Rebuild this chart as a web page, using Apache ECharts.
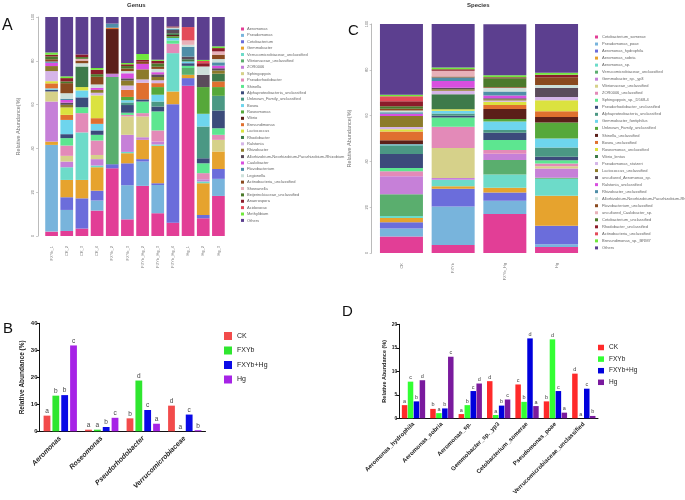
<!DOCTYPE html>
<html><head><meta charset="utf-8">
<script src="https://cdn.jsdelivr.net/npm/echarts/dist/echarts.min.js"></script>
<style>html,body{margin:0;padding:0;background:#fff}#c{width:685px;height:500px}</style>
</head><body><div id="c"></div>
<script>
// ---------- Panel A: Genus ----------
const genusSamples = ['FXYb_1','CK_2','CK_3','CK_4','FXYb_2','FXYb_3','FXYb_Hg_2','FXYb_Hg_3','FXYb_Hg_4','Hg_1','Hg_2','Hg_3'];
const genusNames = ['Aeromonas','Pseudomonas','Cetobacterium','Gemmobacter','Verrucomicrobiaceae_unclassified','Vibrionaceae_unclassified','ZOR0006','Sphingopyxis','Pseudorhodobacter','Shinella','Alphaproteobacteria_unclassified','Unknown_Family_unclassified','Bosea','Roseomonas','Vibrio','Brevundimonas','Lactococcus','Rhodobacter','Ralstonia','Rhizobacter','Allorhizobium-Neorhizobium-Pararhizobium-Rhizobium','Caulobacter','Flavobacterium','Legionella','Actinobacteria_unclassified','Shewanella','Beijerinckiaceae_unclassified','Anaerospora','Acidovorax','Methylibium','Others'];
const gAeromonas = [2, 2.3, 3.4, 11.6, 30.9, 7.6, 22.9, 10.4, 6.1, 68.6, 8.1, 18.3];
const gPseudomonas = [39.6, 9.6, 0, 4.6, 0, 15.6, 11.1, 12.9, 0, 0, 0, 7.8];
const gCetobacterium = [0, 5.8, 13.8, 4.5, 1.9, 10, 1.1, 0.8, 54.1, 3.5, 1.5, 4.5];
const gGemmobacter = [1.5, 7.9, 8.4, 10.7, 0, 4.6, 8.8, 17.1, 5.8, 1.5, 14.5, 8];
const gVerruco = [0, 5.8, 21.7, 0.8, 0, 0.6, 0, 0.6, 17.5, 0, 0.8, 0];
const gVibrionaceae = [0, 0, 0, 0, 39.8, 0, 0, 0, 0, 3.1, 0, 0];
const gZOR0006 = [18.3, 2.6, 0, 2.9, 1.5, 7.8, 1.2, 1.3, 0, 0, 1.0, 0];
const gSphingopyxis = [4.6, 2.6, 0, 1.9, 0, 8.4, 9.5, 0, 0, 0, 0, 5.3];
const gPseudorhodobacter = [0, 4.7, 8.8, 6.6, 0, 0.7, 1.5, 5.1, 4.3, 0, 2.8, 2.3];
const gShinella = [0, 3.4, 2.7, 2.6, 0, 1.0, 5.3, 8.7, 1.5, 1.0, 4.5, 3.0];
const gAlpha = [0.8, 1.8, 4.5, 2.0, 0, 3.5, 1.0, 2.2, 0, 1.2, 2.3, 8.1];
const gUnknownFamily = [0, 0, 0, 0, 0, 1.2, 0, 2.3, 0, 0, 14.5, 6.7];
const gBosea = [0.6, 6.5, 3.2, 3.0, 0, 1.0, 0, 3.1, 1.1, 0.8, 5.8, 0];
const gRoseomonas = [0, 0, 0, 0, 0, 1.5, 0, 3.5, 0.8, 0, 12.2, 4.0];
const gVibrio = [0, 0, 0, 0, 20.4, 0, 0, 0, 0.6, 0, 0, 0];
const gBrevundimonas = [2.3, 2.3, 0, 2.6, 0.6, 3.2, 7.6, 1.8, 0, 0, 0, 2.6];
const gLactococcus = [1.0, 3.4, 1.5, 10.4, 0, 0, 0, 0, 0, 0, 0, 0];
const gRhodobacter = [0, 0, 9.4, 0, 0, 0, 0, 0, 0.8, 1.0, 0, 3.5];
const gRalstonia = [4.6, 0, 0, 1.2, 0, 2.0, 1.5, 1.3, 0, 0, 0, 0];
const gRhizobacter = [2.3, 1.2, 0, 1.3, 0, 2.3, 4.6, 1.5, 0, 0, 0, 1.5];
const gAllorhizobium = [0, 1.0, 0, 0, 0, 1.0, 0, 1.2, 1.5, 1.2, 5.6, 1.0];
const gCaulobacter = [1.5, 1.2, 0, 1.0, 0, 2.3, 2.5, 1.0, 0, 0, 0, 1.2];
const gFlavobacterium = [0.6, 0.6, 0, 0, 1.9, 0, 0, 0, 0.6, 4.5, 0, 1.5];
const gLegionella = [0, 2.5, 1.5, 1.5, 0, 1.0, 0, 1.5, 0.5, 0.9, 3.8, 1.5];
const gActinobacteria = [1.0, 4.6, 1.2, 3.5, 0, 1.2, 1.0, 1.0, 0, 0, 0, 2.0];
const gShewanella = [0, 0, 0.8, 0, 0, 0, 0, 0, 0, 2.0, 0, 1.5];
const gBeijerinckiaceae = [1.3, 0.8, 0.8, 1.2, 0, 1.1, 0, 1.5, 0, 0, 0, 0];
const gAnaerospora = [0.8, 1.5, 1.2, 2.0, 0, 0.8, 0.8, 1.2, 0.5, 0, 1.5, 1.5];
const gAcidovorax = [0, 0, 0, 0, 0, 0, 0, 0, 0, 6.1, 1.0, 0];
const gMethylibium = [1.0, 0.8, 0, 0.8, 0, 0.6, 2.7, 0.5, 0, 0, 0.5, 0.8];
const gOthers = [16.2, 27.1, 17.1, 23.3, 3.0, 21, 16.9, 19.5, 4.3, 4.6, 19.6, 13.4];
const genusData = [gAeromonas,gPseudomonas,gCetobacterium,gGemmobacter,gVerruco,gVibrionaceae,gZOR0006,gSphingopyxis,gPseudorhodobacter,gShinella,gAlpha,gUnknownFamily,gBosea,gRoseomonas,gVibrio,gBrevundimonas,gLactococcus,gRhodobacter,gRalstonia,gRhizobacter,gAllorhizobium,gCaulobacter,gFlavobacterium,gLegionella,gActinobacteria,gShewanella,gBeijerinckiaceae,gAnaerospora,gAcidovorax,gMethylibium,gOthers];

// ---------- Panel C: Species ----------
const speciesSamples = ['CK','FXYb','FXYb_Hg','Hg'];
const speciesNames = ['Cetobacterium_somerae','Pseudomonas_poae','Aeromonas_hydrophila','Aeromonas_sobria','Aeromonas_sp.','Verrucomicrobiaceae_unclassified','Gemmobacter_sp._yp3','Vibrionaceae_unclassified','ZOR0006_unclassified','Sphingopyxis_sp._D568-4','Pseudorhodobacter_unclassified','Alphaproteobacteria_unclassified','Gemmobacter_fontiphilus','Unknown_Family_unclassified','Shinella_unclassified','Bosea_unclassified','Roseomonas_unclassified','Vibrio_lentus','Pseudomonas_stutzeri','Lactococcus_unclassified','uncultured_Aeromonas_sp.','Ralstonia_unclassified','Rhizobacter_unclassified','Allorhizobium-Neorhizobium-Pararhizobium-Rhizobium_unclassified','Flavobacterium_unclassified','uncultured_Caulobacter_sp.','Cetobacterium_unclassified','Rhodobacter_unclassified','Actinobacteria_unclassified','Brevundimonas_sp._BRM7','Others'];
const sCetoSomerae = [7.2, 3.5, 17.0, 2.6];
const sPseudoPoae = [3.5, 16.8, 5.8, 1.2];
const sAeroHydrophila = [2.7, 7.8, 3.6, 8.1];
const sAeroSobria = [1.9, 1.1, 2.1, 13.1];
const sAeroSp = [0.9, 2.8, 5.8, 7.4];
const sVerruco = [9.5, 0, 6.3, 0.5];
const sGemmoYp3 = [7.8, 0.7, 2.7, 4.0];
const sVibrionaceae = [0, 13.1, 0, 1.0];
const sZOR0006 = [2.2, 9.3, 1.7, 1.2];
const sSphingopyxis = [1.4, 4.1, 4.3, 1.4];
const sPseudorhodo = [6.1, 0.7, 3.2, 1.5];
const sAlpha = [3.8, 1.0, 1.2, 4.1];
const sGemmoFont = [0.5, 1.2, 3.7, 3.9];
const sUnknownFamily = [0, 0, 1.1, 7.0];
const sShinella = [1.7, 0, 4.4, 2.4];
const sBosea = [3.9, 0, 1.7, 2.5];
const sRoseomonas = [0.9, 0.7, 1.5, 4.8];
const sVibrioLentus = [0, 6.5, 0, 0];
const sPseudoStutzeri = [1.0, 1.5, 0.5, 1.4];
const sLactococcus = [4.8, 0.7, 0.5, 0];
const sUncAeromonas = [0, 0.7, 0.5, 3.9];
const sRalstonia = [1.0, 2.9, 1.2, 0];
const sRhizobacter = [0.7, 1.5, 1.7, 0];
const sAllorhizobium = [0.7, 0, 1.7, 1.4];
const sFlavobacterium = [0.8, 0.5, 0.3, 3.4];
const sUncCaulobacter = [0, 2.5, 0, 0];
const sCetoUncl = [1.1, 0, 3.8, 0];
const sRhodobacter = [2.2, 0.6, 0.5, 1.0];
const sActinobacteria = [2.2, 0, 0, 0];
const sBrevundimonas = [0.6, 0.8, 0.8, 0.9];
const sOthers = [30.9, 19.0, 22.3, 21.3];
const speciesData = [sCetoSomerae,sPseudoPoae,sAeroHydrophila,sAeroSobria,sAeroSp,sVerruco,sGemmoYp3,sVibrionaceae,sZOR0006,sSphingopyxis,sPseudorhodo,sAlpha,sGemmoFont,sUnknownFamily,sShinella,sBosea,sRoseomonas,sVibrioLentus,sPseudoStutzeri,sLactococcus,sUncAeromonas,sRalstonia,sRhizobacter,sAllorhizobium,sFlavobacterium,sUncCaulobacter,sCetoUncl,sRhodobacter,sActinobacteria,sBrevundimonas,sOthers];

// ---------- Panel B ----------
const bCategories = ['Aeromonas','Roseomonas','Pseudorhodobacter','Verrucomicrobiaceae'];
const bCK = [5.8, 0.6, 4.8, 9.5];
const bFXYb = [13.2, 0.6, 18.8, 0];
const bFXYbHg = [13.4, 1.6, 7.9, 6.2];
const bHg = [31.8, 5.0, 2.8, 0.4];
const bCKSig = ['a','a','b','d'];
const bFXYbSig = ['b','a','d','a'];
const bFXYbHgSig = ['b','b','c','c'];
const bHgSig = ['c','c','a','b'];
const bTicks = [0, 10, 20, 30, 40];

// ---------- Panel D ----------
const dCategories = ['Aeromonas_hydrophila','Aeromonas_sobria','Aeromonas_sp.','Gemmobacter_sp._yp3','Cetobacterium_somerae','Pseudomonas_poae','Verrucomicrobiaceae_unclassified'];
const dCK = [2.8, 2.0, 0.9, 7.9, 7.2, 3.6, 9.5];
const dFXYb = [7.8, 1.1, 2.8, 0.7, 3.5, 16.8, 0];
const dFXYbHg = [3.6, 2.1, 5.8, 2.7, 17.0, 5.8, 6.3];
const dHg = [8.1, 13.1, 7.4, 4.0, 2.6, 1.2, 0.5];
const dCKSig = ['a','b','a','d','c','b','d'];
const dFXYbSig = ['c','a','b','a','b','d','a'];
const dFXYbHgSig = ['b','b','c','b','d','c','c'];
const dHgSig = ['d','c','d','c','a','a','b'];
const dTicks = [0, 5, 10, 15, 20];

const groupNames = ['CK','FXYb','FXYb+Hg','Hg'];
const bColors = ['#f24b4b','#2fe62f','#0a0ae6','#a623e6'];
const dColors = ['#ff2a2a','#33ff33','#0000dd','#7a1a9e'];

const palette = ['#e23e96','#78b4dc','#6b6ddb','#e6a32e','#6ddbc9','#5aae6e','#c680d8','#d6d18a','#e38ab8','#5de690','#3c4b7b','#4b9884','#6ed5ed','#56a83a','#5b1f19','#e0702f','#dbe23f','#3e7a4a','#d5b5e8','#8c7b2b','#5b4c5b','#d84fe0','#4f8ea8','#cde0da','#8a4a1f','#e8b1b9','#4b7a2b','#8c1c2a','#e34b5a','#70e83c','#5c3f8f'];

const chart = echarts.init(document.getElementById('c'), null, {renderer:'canvas'});
const series = [];
genusNames.forEach((n, i) => series.push({type:'bar', name:n, stack:'genus', xAxisIndex:0, yAxisIndex:0, barWidth:12.7, data:genusData[i], itemStyle:{color:palette[i]}, emphasis:{disabled:true}}));
speciesNames.forEach((n, i) => series.push({type:'bar', name:n, stack:'species', xAxisIndex:1, yAxisIndex:1, barWidth:43, data:speciesData[i], itemStyle:{color:palette[i]}, emphasis:{disabled:true}}));
const bVals = [bCK, bFXYb, bFXYbHg, bHg], bSigs = [bCKSig, bFXYbSig, bFXYbHgSig, bHgSig];
groupNames.forEach((n, i) => series.push({type:'bar', name:n, xAxisIndex:2, yAxisIndex:2, barWidth:6.8, barGap:'30%', data:bVals[i], itemStyle:{color:bColors[i]},
  label:{show:true, position:'top', distance:1, fontSize:6.5, color:'#444', fontFamily:'Liberation Sans', formatter:p => bSigs[i][p.dataIndex]}}));
const dVals = [dCK, dFXYb, dFXYbHg, dHg], dSigs = [dCKSig, dFXYbSig, dFXYbHgSig, dHgSig];
groupNames.forEach((n, i) => series.push({type:'bar', name:n, xAxisIndex:3, yAxisIndex:3, barWidth:5.5, barGap:'8%', data:dVals[i], itemStyle:{color:dColors[i]},
  label:{show:true, position:'top', distance:1, fontSize:5.5, color:'#444', fontFamily:'Liberation Sans', formatter:p => dSigs[i][p.dataIndex]}}));

const stackY = (name, gap) => ({min:0, max:100, interval:20, axisLine:{show:true, lineStyle:{color:'#aaa', width:0.8}},
  axisTick:{show:true, length:2, lineStyle:{color:'#aaa', width:0.6}}, axisLabel:{fontSize:4, color:'#777', rotate:90, margin:3},
  splitLine:{show:false}, name:name, nameLocation:'middle', nameGap:gap, nameTextStyle:{fontSize:5.5, color:'#777'}});
const barY = (max, itv, gap, fs) => ({min:0, max:max, interval:itv, axisLine:{show:true, lineStyle:{color:'#111', width:1}},
  axisTick:{show:true, length:3, lineStyle:{color:'#111'}}, axisLabel:{fontSize:fs, fontWeight:'bold', color:'#222', margin:2, fontFamily:'Liberation Sans'},
  splitLine:{show:false}, name:'Relative Abundance (%)', nameLocation:'middle', nameGap:gap, nameTextStyle:{fontSize:fs+0.5, fontWeight:'bold', color:'#222', fontFamily:'Liberation Sans'}});

const option = {
  animation:false,
  backgroundColor:'#fff',
  textStyle:{fontFamily:'Liberation Sans'},
  grid:[
    {left:44, top:17, width:182, height:219},
    {left:375.6, top:24, width:206.8, height:229},
    {left:39.5, top:323.3, width:166, height:108},
    {left:399.3, top:324.3, width:198.7, height:94}
  ],
  xAxis:[
    {gridIndex:0, type:'category', data:genusSamples, axisLine:{show:false}, axisTick:{show:false}, axisLabel:{rotate:90, fontSize:4, color:'#777', margin:10, interval:0}},
    {gridIndex:1, type:'category', data:speciesSamples, axisLine:{show:false}, axisTick:{show:false}, axisLabel:{rotate:90, fontSize:4, color:'#777', margin:10, interval:0}},
    {gridIndex:2, type:'category', data:bCategories, axisLine:{lineStyle:{color:'#111', width:1}}, axisTick:{show:false}, axisLabel:{rotate:45, fontSize:7, fontStyle:'italic', fontWeight:'bold', color:'#222', margin:6, interval:0}},
    {gridIndex:3, type:'category', data:dCategories, axisLine:{lineStyle:{color:'#111', width:1}}, axisTick:{show:false}, axisLabel:{rotate:45, fontSize:6, fontWeight:'bold', color:'#222', margin:5, interval:0}}
  ],
  yAxis:[
    Object.assign({gridIndex:0, offset:6}, stackY('Relative Abundance(%)', 17)),
    Object.assign({gridIndex:1, offset:4}, stackY('Relative Abundance(%)', 19)),
    Object.assign({gridIndex:2}, barY(bTicks[bTicks.length-1], bTicks[1]-bTicks[0], 14, 6)),
    Object.assign({gridIndex:3}, barY(dTicks[dTicks.length-1], dTicks[1]-dTicks[0], 12, 5))
  ],
  legend:[
    {orient:'vertical', left:236, top:22, itemWidth:3, itemHeight:3, itemGap:2.38, icon:'rect', selectedMode:false,
     textStyle:{fontSize:4, lineHeight:4, color:'#666', padding:[0,0,0,-2]},
     data:genusNames.map((n,i)=>({name:n, itemStyle:{color:palette[i]}}))},
    {orient:'vertical', left:590, top:30, itemWidth:3, itemHeight:3, itemGap:3.03, icon:'rect', selectedMode:false,
     textStyle:{fontSize:4, lineHeight:4, color:'#666', padding:[0,0,0,-1]},
     data:speciesNames.map((n,i)=>({name:n, itemStyle:{color:palette[i]}}))},
    {orient:'vertical', left:219, top:327, itemWidth:8, itemHeight:8, itemGap:6.5, icon:'rect', selectedMode:false,
     textStyle:{fontSize:7, lineHeight:8, color:'#222'},
     data:groupNames.map((n,i)=>({name:n, itemStyle:{color:bColors[i]}}))},
    {orient:'vertical', left:593, top:339, itemWidth:6, itemHeight:5.5, itemGap:4.6, icon:'rect', selectedMode:false,
     textStyle:{fontSize:6.5, lineHeight:6, color:'#222'},
     data:groupNames.map((n,i)=>({name:n, itemStyle:{color:dColors[i]}}))}
  ],
  graphic:[
    {type:'text', left:127, top:2, style:{text:'Genus', fontSize:6, fontWeight:'bold', fill:'#333'}},
    {type:'text', left:467, top:2, style:{text:'Species', fontSize:6, fontWeight:'bold', fill:'#333'}},
    {type:'text', left:2, top:18, style:{text:'A', fontSize:16, fill:'#111'}},
    {type:'text', left:348, top:23, style:{text:'C', fontSize:15, fill:'#111'}},
    {type:'text', left:3, top:321, style:{text:'B', fontSize:15, fill:'#111'}},
    {type:'text', left:342, top:304, style:{text:'D', fontSize:15, fill:'#111'}}
  ],
  series:series
};
chart.setOption(option);
</script></body></html>
